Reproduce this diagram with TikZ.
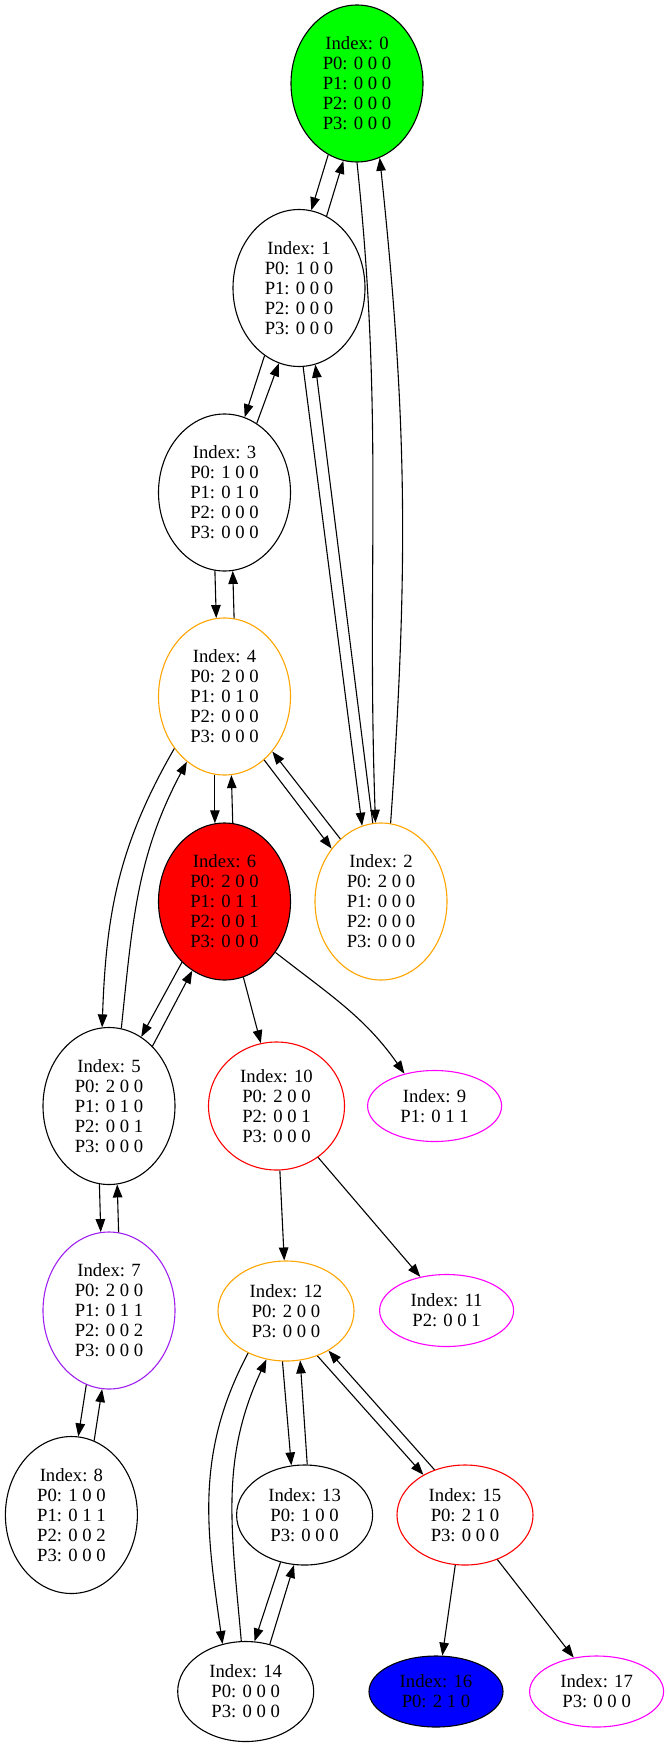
\documentclass[tikz,border=0pt]{standalone}
\usepackage{fontspec}
\setmainfont{Liberation Serif}
\usetikzlibrary{shapes.geometric,arrows.meta}
\definecolor{gvorange}{HTML}{FFA500}
\definecolor{gvpurple}{HTML}{A020F0}
\definecolor{gvgreen}{HTML}{00FF00}
\definecolor{gvmagenta}{HTML}{FF00FF}
\definecolor{gvblue}{HTML}{0000FF}
\definecolor{gvred}{HTML}{FF0000}
\begin{document}
\begin{tikzpicture}[x=1pt,y=1pt,
  state/.style={ellipse, draw, line width=1.1pt, inner sep=0pt, align=center,
    font=\fontsize{18.67}{20}\selectfont},
  five/.style={state, minimum width=132pt, minimum height=157pt},
  four/.style={state, minimum width=136pt, minimum height=128pt},
  three/.style={state, minimum width=136pt, minimum height=100pt},
  two/.style={state, minimum width=134pt, minimum height=71pt},
  edge/.style={-{Triangle[length=13pt,width=9.5pt]}, line width=1.1pt}]
\useasboundingbox (0,0) rectangle (667,-1747);

% states
\node[five, fill=gvgreen] (n0) at (357,-83.5) {Index: 0\\P0: 0 0 0\\P1: 0 0 0\\P2: 0 0 0\\P3: 0 0 0};
\node[five] (n1) at (299,-288) {Index: 1\\P0: 1 0 0\\P1: 0 0 0\\P2: 0 0 0\\P3: 0 0 0};
\node[five] (n3) at (224.5,-492.5) {Index: 3\\P0: 1 0 0\\P1: 0 1 0\\P2: 0 0 0\\P3: 0 0 0};
\node[five, draw=gvorange] (n4) at (224.5,-696.5) {Index: 4\\P0: 2 0 0\\P1: 0 1 0\\P2: 0 0 0\\P3: 0 0 0};
\node[five, fill=gvred] (n6) at (224.5,-901.5) {Index: 6\\P0: 2 0 0\\P1: 0 1 1\\P2: 0 0 1\\P3: 0 0 0};
\node[five, draw=gvorange] (n2) at (381,-901.5) {Index: 2\\P0: 2 0 0\\P1: 0 0 0\\P2: 0 0 0\\P3: 0 0 0};
\node[five] (n5) at (109,-1106) {Index: 5\\P0: 2 0 0\\P1: 0 1 0\\P2: 0 0 1\\P3: 0 0 0};
\node[four, draw=gvred] (n10) at (276.5,-1106) {Index: 10\\P0: 2 0 0\\P2: 0 0 1\\P3: 0 0 0};
\node[two, draw=gvmagenta] (n9) at (434.6,-1106) {Index: 9\\P1: 0 1 1};
\node[five, draw=gvpurple] (n7) at (109,-1310.5) {Index: 7\\P0: 2 0 0\\P1: 0 1 1\\P2: 0 0 2\\P3: 0 0 0};
\node[three, draw=gvorange] (n12) at (286,-1311) {Index: 12\\P0: 2 0 0\\P3: 0 0 0};
\node[two, draw=gvmagenta, minimum height=72pt] (n11) at (446.6,-1310.5) {Index: 11\\P2: 0 0 1};
\node[five] (n8) at (71.4,-1515) {Index: 8\\P0: 1 0 0\\P1: 0 1 1\\P2: 0 0 2\\P3: 0 0 0};
\node[three] (n13) at (304.6,-1515) {Index: 13\\P0: 1 0 0\\P3: 0 0 0};
\node[three, draw=gvred] (n15) at (465,-1515) {Index: 15\\P0: 2 1 0\\P3: 0 0 0};
\node[three] (n14) at (245.7,-1691.5) {Index: 14\\P0: 0 0 0\\P3: 0 0 0};
\node[two, fill=gvblue] (n16) at (436,-1691.5) {Index: 16\\P0: 2 1 0};
\node[two, draw=gvmagenta] (n17) at (596.6,-1691.5) {Index: 17\\P3: 0 0 0};

% transitions
\draw[edge] (n0.248) -- (n1.81.5);
\draw[edge] (n1.69.7) -- (n0.260);
\draw[edge] (n0.270) to[out=-84,in=92] (n2.94);
\draw[edge] (n2.83) to[out=86,in=-84] (n0.287);
\draw[edge] (n1.273) -- (n2.104);
\draw[edge] (n2.96) -- (n1.282.6);
\draw[edge] (n1.243.7) -- (n3.75.7);
\draw[edge] (n3.65.2) -- (n1.255.8);
\draw[edge] (n3.263.8) -- (n4.96.2);
\draw[edge] (n4.83.8) -- (n3.276.2);
\draw[edge] (n4.263.1) -- (n6.97);
\draw[edge] (n6.84.3) -- (n4.275.8);
\draw[edge] (n4.302.5) -- (n2.133.3);
\draw[edge] (n2.123.4) -- (n4.311.9);
\draw[edge] (n4.226.3) to[out=240,in=88] (n5.95.9);
\draw[edge] (n5.81.3) to[out=84,in=242] (n4.240.9);
\draw[edge] (n6.235.4) -- (n5.65.8);
\draw[edge] (n5.54.8) -- (n6.245.9);
\draw[edge] (n6.284.3) -- (n10.104);
\draw[edge] (n6.315) to[out=-38,in=125] (n9.133.7);
\draw[edge] (n5.263.8) -- (n7.96.2);
\draw[edge] (n7.83.8) -- (n5.276.2);
\draw[edge] (n10.273) -- (n12.92.3);
\draw[edge] (n10.309.8) -- (n11.128.2);
\draw[edge] (n7.253.5) -- (n8.85.9);
\draw[edge] (n8.73) -- (n7.265.3);
\draw[edge] (n12.228.6) to[out=242,in=98] (n14.116);
\draw[edge] (n14.95.9) to[out=95,in=245] (n12.248);
\draw[edge] (n12.266.6) -- (n13.105.9);
\draw[edge] (n13.87.3) -- (n12.286.6);
\draw[edge] (n12.305.4) -- (n15.136.4);
\draw[edge] (n15.124.6) -- (n12.317.9);
\draw[edge] (n13.243.8) -- (n14.80.5);
\draw[edge] (n14.63.4) -- (n13.258);
\draw[edge] (n15.259.8) -- (n16.80.4);
\draw[edge] (n15.306.3) -- (n17.124.4);
\end{tikzpicture}
\end{document}
